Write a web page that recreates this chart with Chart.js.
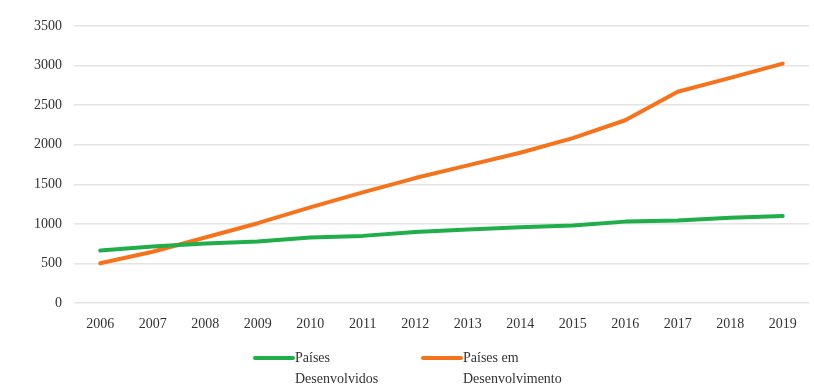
<!DOCTYPE html>
<html>
<head>
<meta charset="utf-8">
<script src="https://cdn.jsdelivr.net/npm/chart.js@4"></script>
<style>
  html, body { margin: 0; padding: 0; background: #fff; }
  #wrap { width: 814px; height: 390px; }
</style>
</head>
<body>
<div id="wrap"><canvas id="chart"></canvas></div>
<script>
const years = ['2006', '2007', '2008', '2009', '2010', '2011', '2012', '2013', '2014', '2015', '2016', '2017', '2018', '2019'];
const developed = [665, 715, 755, 780, 830, 850, 900, 930, 960, 980, 1030, 1045, 1080, 1100];
const developing = [505, 650, 830, 1010, 1210, 1400, 1580, 1740, 1900, 2085, 2310, 2670, 2845, 3025];
const seriesNames = [['Países', 'Desenvolvidos'], ['Países em', 'Desenvolvimento']];
const colors = ['#1fae4a', '#f5731c'];

const FONT = 'Liberation Serif';

// legend below the plot, two-line labels
const bottomLegend = {
  id: 'bottomLegend',
  afterDraw(chart) {
    const ctx = chart.ctx;
    const starts = [255, 423];
    ctx.save();
    ctx.font = '14px "' + FONT + '"';
    ctx.fillStyle = '#333';
    ctx.textBaseline = 'middle';
    chart.data.datasets.forEach((ds, i) => {
      const x = starts[i];
      ctx.strokeStyle = ds.borderColor;
      ctx.lineWidth = 4;
      ctx.lineCap = 'round';
      ctx.beginPath();
      ctx.moveTo(x, 358);
      ctx.lineTo(x + 38, 358);
      ctx.stroke();
      ds.legendText.forEach((t, j) => ctx.fillText(t, x + 40, 358 + j * 21));
    });
    ctx.restore();
  }
};

new Chart(document.getElementById('chart'), {
  type: 'line',
  data: {
    labels: years,
    datasets: [
      { label: seriesNames[0].join(' '), legendText: seriesNames[0], data: developed, borderColor: colors[0], backgroundColor: colors[0] },
      { label: seriesNames[1].join(' '), legendText: seriesNames[1], data: developing, borderColor: colors[1], backgroundColor: colors[1] }
    ]
  },
  options: {
    responsive: true,
    maintainAspectRatio: false,
    animation: false,
    layout: { padding: { left: 22, right: 5, top: 26, bottom: 52 } },
    elements: {
      line: { borderWidth: 4, tension: 0, borderCapStyle: 'round', borderJoinStyle: 'round' },
      point: { radius: 0 }
    },
    plugins: {
      legend: { display: false },
      tooltip: { enabled: false }
    },
    scales: {
      x: {
        offset: true,
        grid: { display: false },
        border: { display: false },
        ticks: { color: '#333', font: { family: FONT, size: 14 }, padding: 5, maxRotation: 0, autoSkip: false }
      },
      y: {
        min: 0, max: 3500,
        ticks: { stepSize: 500, color: '#333', font: { family: FONT, size: 14 }, padding: 12, callback: v => String(v) },
        grid: { color: '#e4e4e4', lineWidth: 1.5, drawTicks: false },
        border: { display: false }
      }
    }
  },
  plugins: [bottomLegend]
});
</script>
</body>
</html>
